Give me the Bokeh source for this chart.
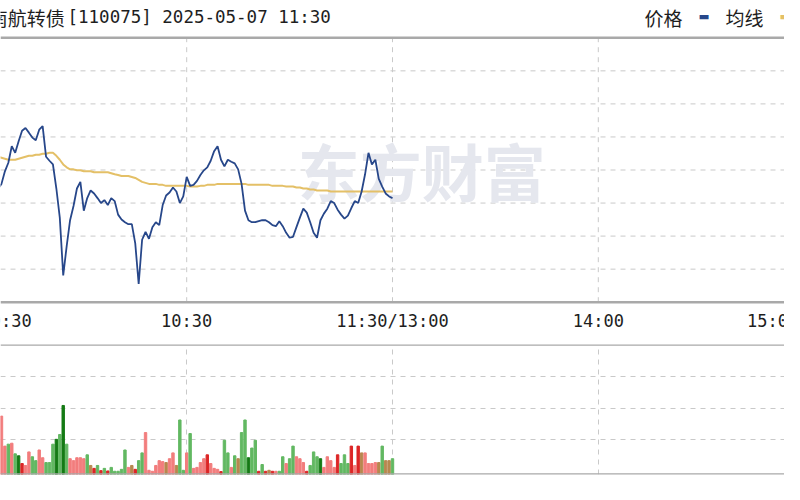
from bokeh.plotting import figure
from bokeh.layouts import column
from bokeh.models import Range1d, FixedTicker, Span
from bokeh.core.properties import value
from bokeh.embed import file_html
from bokeh.resources import INLINE

# ---------------- data (minute index: 0 = 9:30, 120 = 11:30/13:00, 240 = 15:00)
tick_minutes = [60, 120, 180]
tick_labels = ["10:30", "11:30/13:00", "14:00"]
first_label = "9:30"
last_label = "15:00"
title_name = "南航转债"
title_rest = "[110075] 2025-05-07 11:30"
legend_names = ["价格", "均线"]

prev_close = 127.8
price_step = 0.1

price_minutes = list(range(5, 121))
price = [
    127.744, 127.758, 127.796, 127.822, 127.872, 127.852, 127.887, 127.919, 127.927, 127.913,
    127.898, 127.890, 127.922, 127.933, 127.840, 127.828, 127.817, 127.744, 127.656, 127.481,
    127.569, 127.648, 127.691, 127.744, 127.764, 127.677, 127.715, 127.738, 127.729, 127.715,
    127.700, 127.709, 127.694, 127.715, 127.706, 127.665, 127.650, 127.642, 127.636, 127.636,
    127.578, 127.455, 127.589, 127.613, 127.592, 127.627, 127.642, 127.633, 127.694, 127.723,
    127.732, 127.747, 127.735, 127.700, 127.720, 127.779, 127.752, 127.755, 127.767, 127.785,
    127.799, 127.808, 127.828, 127.857, 127.872, 127.831, 127.811, 127.831, 127.825, 127.820,
    127.802, 127.758, 127.677, 127.648, 127.642, 127.642, 127.645, 127.648, 127.648, 127.642,
    127.633, 127.630, 127.645, 127.630, 127.610, 127.595, 127.598, 127.627, 127.656, 127.683,
    127.671, 127.642, 127.610, 127.595, 127.648, 127.668, 127.683, 127.706, 127.700, 127.680,
    127.665, 127.653, 127.662, 127.685, 127.706, 127.700, 127.735, 127.787, 127.852, 127.817,
    127.831, 127.773, 127.750, 127.729, 127.720, 127.715,
]
avg_price = [
    127.840, 127.837, 127.834, 127.831, 127.831, 127.831, 127.834, 127.837, 127.840, 127.843,
    127.843, 127.846, 127.846, 127.849, 127.849, 127.852, 127.852, 127.843, 127.831, 127.817,
    127.808, 127.802, 127.802, 127.799, 127.799, 127.796, 127.796, 127.796, 127.793, 127.793,
    127.793, 127.793, 127.793, 127.790, 127.787, 127.785, 127.782, 127.782, 127.782, 127.779,
    127.776, 127.770, 127.764, 127.761, 127.758, 127.758, 127.758, 127.755, 127.755,
    127.752, 127.752, 127.752, 127.752, 127.752, 127.752, 127.752,
    127.750, 127.750, 127.750,
    127.752, 127.752,
    127.755, 127.755, 127.755,
    127.758, 127.758, 127.758, 127.758, 127.758, 127.758, 127.758, 127.758, 127.758,
    127.755, 127.755, 127.755, 127.755, 127.755, 127.755, 127.755,
    127.752, 127.752, 127.752, 127.752,
    127.750, 127.750, 127.750,
    127.747, 127.747,
    127.744, 127.744,
    127.741, 127.741,
    127.738, 127.738, 127.738, 127.738,
    127.735, 127.735, 127.735, 127.735, 127.735, 127.735, 127.735, 127.735, 127.735, 127.735,
    127.735, 127.735, 127.735, 127.735, 127.735, 127.735, 127.735, 127.735, 127.735,
]

vol_minutes = list(range(6, 121))
volume = [
    181, 88, 94, 97, 64, 58, 34, 28, 70, 55,
    43, 76, 52, 37, 37, 94, 109, 124, 214, 94,
    49, 43, 52, 52, 49, 61, 28, 19, 28, 12,
    19, 11, 22, 10, 10, 16, 76, 22, 28, 16,
    43, 67, 130, 13, 10, 28, 43, 40, 37, 49,
    67, 28, 169, 13, 67, 127, 19, 22, 37, 49,
    61, 34, 19, 16, 9, 106, 67, 22, 58, 49,
    130, 169, 52, 82, 106, 10, 31, 10, 13, 10,
    10, 10, 55, 34, 49, 88, 55, 49, 37, 10,
    28, 70, 55, 49, 22, 55, 43, 22, 61, 34,
    61, 34, 88, 28, 88, 67, 67, 34, 34, 37,
    37, 88, 43, 43, 49,
]
vol_kind = [
    "r", "r", "g", "r", "g", "G", "R", "r", "r", "g",
    "g", "r", "r", "g", "g", "g", "G", "g", "G", "g",
    "r", "r", "r", "r", "r", "g", "b", "R", "g", "R",
    "g", "R", "g", "g", "g", "g", "g", "r", "b", "R",
    "g", "g", "r", "r", "r", "r", "r", "r", "b", "r",
    "r", "b", "g", "g", "r", "g", "r", "r", "r", "r",
    "R", "r", "r", "r", "R", "g", "g", "r", "g", "b",
    "g", "g", "G", "g", "g", "R", "g", "R", "b", "R",
    "r", "g", "g", "r", "g", "g", "r", "r", "r", "R",
    "g", "g", "g", "G", "r", "r", "r", "r", "R", "g",
    "g", "g", "R", "r", "R", "b", "r", "r", "r", "r",
    "b", "g", "b", "b", "g",
]
vol_grid_levels = [107, 206, 303]
vol_top = 403

kind_colors = {"r": "#f27d7d", "R": "#dc2626", "g": "#62b862",
               "G": "#157a15", "b": "#b8874f"}
vol_colors = [kind_colors[k] for k in vol_kind]

# ---------------- layout constants (canvas pixels)
W = 784
H1, H2 = 343, 141
PX_TOP, PX_BOT = 37.3, 301.7          # price frame border rows
X0, X1 = 20 / 3.5, 820 / 3.5          # visible minute window
PX_PER_MIN = W / (X1 - X0)
PY_PER_PRICE = (PX_BOT - PX_TOP) / (8 * price_step)
Y_HI = prev_close + 4 * price_step + PX_TOP / PY_PER_PRICE
Y_LO = prev_close - 4 * price_step - (H1 - PX_BOT) / PY_PER_PRICE


def xd(px):
    return X0 + px / PX_PER_MIN


def yd(py):
    return Y_HI - py / PY_PER_PRICE


GRID = "#c9c9c9"
BORDER = "#a9a9a9"
TXT = "#1e1e1e"
MONO = value("DejaVu Sans Mono")
CJK = value("Noto Sans CJK SC")
BLUE = "#27478a"
GOLD = "#e4c067"

xr = Range1d(X0, X1)
p_lo, p_hi = prev_close - 4 * price_step, prev_close + 4 * price_step

# ---------------- price panel (frame = whole canvas)
p = figure(width=W, height=H1, x_range=xr, y_range=Range1d(Y_LO, Y_HI),
           output_backend="svg", toolbar_location=None,
           x_axis_location=None, y_axis_location=None,
           min_border=0, outline_line_color=None,
           background_fill_color="white", border_fill_color="white")
p.xgrid.visible = False
p.ygrid.visible = False

grid_levels = [round(prev_close + k * price_step, 3) for k in range(-3, 4)]
p.segment(x0=[X0] * len(grid_levels), x1=[X1] * len(grid_levels),
          y0=grid_levels, y1=grid_levels,
          line_color=GRID, line_dash="5 5", line_width=1)
p.segment(x0=tick_minutes, x1=tick_minutes, y0=[p_lo] * 3, y1=[p_hi] * 3,
          line_color=GRID, line_dash="5 5", line_width=1)
for loc in (p_lo, p_hi):
    p.add_layout(Span(location=loc, dimension="width", line_color=BORDER, line_width=2.5))

# watermark
p.text(x=[128.5], y=[prev_close], text=["东方财富"], text_font=CJK,
       text_font_size="62px", text_font_style="bold", text_color="#e5e7ee",
       text_align="center", text_baseline="middle")

p.line(price_minutes, avg_price, line_color=GOLD, line_width=2)
p.line(price_minutes, price, line_color=BLUE, line_width=1.8)

# title row
ty = yd(16.5)
p.text(x=[xd(-11.8)], y=[ty], text=[title_name], text_font=CJK, text_font_size="19px",
       text_color=TXT, text_baseline="middle", text_align="left")
p.text(x=[xd(67)], y=[ty], text=[title_rest], text_font=MONO, text_font_size="17.5px",
       text_color=TXT, text_baseline="middle", text_align="left")
p.text(x=[xd(644), xd(725)], y=[ty, ty], text=legend_names, text_font=CJK,
       text_font_size="19px", text_color=TXT, text_baseline="middle", text_align="left")
p.text(x=[xd(699), xd(780)], y=[yd(15), yd(15)], text=["▬", "▬"], text_font=MONO,
       text_font_size="15px", text_color=[BLUE, GOLD], text_baseline="middle",
       text_align="left")

# time axis labels
ly = yd(320.9)
p.text(x=tick_minutes, y=[ly] * 3, text=tick_labels, text_font=MONO, text_font_size="17px",
       text_color=TXT, text_baseline="middle", text_align="center")
p.text(x=[xd(-9.8), xd(746.5)], y=[ly, ly], text=[first_label, last_label], text_font=MONO,
       text_font_size="17px", text_color=TXT, text_baseline="middle", text_align="left")

# ---------------- volume panel
v = figure(width=W, height=H2, x_range=xr, y_range=Range1d(0, vol_top),
           output_backend="svg", toolbar_location=None,
           x_axis_location=None, y_axis_location=None,
           min_border_left=0, min_border_right=0, min_border_top=1, min_border_bottom=10,
           outline_line_color=None, background_fill_color="white", border_fill_color="white")
v.xgrid.ticker = FixedTicker(ticks=tick_minutes)
v.ygrid.ticker = FixedTicker(ticks=vol_grid_levels)
for g in (v.xgrid, v.ygrid):
    g.grid_line_color = GRID
    g.grid_line_dash = "5 5"
    g.grid_line_width = 1

v.vbar(x=vol_minutes, top=volume, width=0.7, color=vol_colors)
v.add_layout(Span(location=vol_top, dimension="width", line_color=BORDER, line_width=2.5))
v.add_layout(Span(location=0, dimension="width", line_color=BORDER, line_width=2.5))

layout = column(p, v, spacing=0)
open("out.html", "w").write(file_html(layout, INLINE))
